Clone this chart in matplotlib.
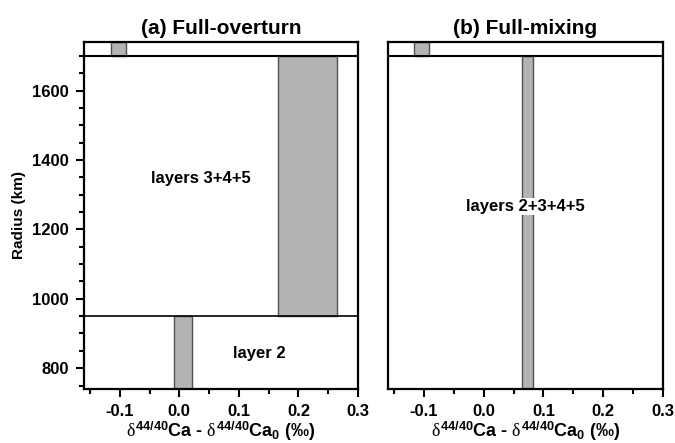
import matplotlib
matplotlib.use("Agg")
import numpy as np
from matplotlib import pyplot as plt
from matplotlib.ticker import MultipleLocator, FixedLocator

plt.rcParams['font.family'] = ['Liberation Sans', 'DejaVu Sans']
plt.rcParams['mathtext.fontset'] = 'custom'
plt.rcParams['mathtext.rm'] = 'Liberation Sans'
plt.rcParams['mathtext.it'] = 'Liberation Serif'
plt.rcParams['mathtext.bf'] = 'Liberation Sans:bold'
plt.rcParams['axes.unicode_minus'] = False

# layer boundaries (km)
r_bottom = 740
r_layer2_top = 950
r_mantle_top = 1700
r_surface = 1740

# (a) full-overturn: bar extents in delta units
a_crust = (-0.115, -0.09)
a_upper = (0.165, 0.265)
a_layer2 = (-0.009, 0.021)

# (b) full-mixing
b_crust = (-0.116, -0.091)
b_mantle = (0.0635, 0.082)

titles = ['(a) Full-overturn', '(b) Full-mixing']
xticks = [-0.1, 0.0, 0.1, 0.2, 0.3]
yticks = [800, 1000, 1200, 1400, 1600]

bar_face = '#b4b4b4'
bar_edge = '#505050'

fig = plt.figure(figsize=(6.75, 4.43), dpi=100)
ax1 = fig.add_axes([0.1244, 0.1219, 0.406, 0.7833])
ax2 = fig.add_axes([0.5748, 0.1219, 0.4074, 0.7833])


def add_bar(ax, xr, y0, y1):
    ax.bar(xr[0], y1 - y0, width=xr[1] - xr[0], bottom=y0, align='edge',
           color=bar_face, edgecolor=bar_edge, linewidth=1.0, zorder=2)


add_bar(ax1, a_crust, r_mantle_top, r_surface)
add_bar(ax1, a_upper, r_layer2_top, r_mantle_top)
add_bar(ax1, a_layer2, r_bottom, r_layer2_top)
ax1.axhline(r_layer2_top, color='black', lw=1.2, zorder=3)

add_bar(ax2, b_crust, r_mantle_top, r_surface)
add_bar(ax2, b_mantle, r_bottom, r_mantle_top)

for ax, title in zip([ax1, ax2], titles):
    ax.axhline(r_mantle_top, color='black', lw=1.5, zorder=3)
    ax.set_xlim(-0.16, 0.3)
    ax.set_ylim(r_bottom, r_surface)
    ax.set_title(title, fontsize=15, fontweight='bold', pad=6)
    ax.set_xticks(xticks)
    ax.set_xticklabels(['%.1f' % v for v in xticks], fontweight='bold', fontsize=12)
    ax.xaxis.set_minor_locator(MultipleLocator(0.05))
    ax.tick_params(axis='x', which='major', direction='out', length=6, width=1.5, pad=5)
    ax.tick_params(axis='x', which='minor', direction='out', length=3.5, width=1.5)
    for s in ax.spines.values():
        s.set_linewidth(1.6)
    ax.set_xlabel(r'$\delta^{\mathbf{44/40}}$Ca - $\delta^{\mathbf{44/40}}$Ca$_{\mathbf{0}}$ (‰)',
                  fontsize=13, fontweight='bold', labelpad=0)

ax1.set_yticks(yticks)
ax1.set_yticklabels([str(v) for v in yticks], fontweight='bold', fontsize=12)
ax1.yaxis.set_minor_locator(FixedLocator(np.arange(750, 1701, 50)))
ax1.tick_params(axis='y', which='major', direction='out', length=6, width=1.5, pad=5)
ax1.tick_params(axis='y', which='minor', direction='out', length=3.5, width=1.5)
ax1.set_ylabel('Radius (km)', fontsize=11, fontweight='bold', labelpad=4)

ax2.set_yticks([])

ax1.text(0.037, 1347, 'layers 3+4+5', ha='center', va='center', fontsize=12, fontweight='bold')
ax1.text(0.135, 843, 'layer 2', ha='center', va='center', fontsize=12, fontweight='bold')
ax2.text(0.07, 1266, 'layers 2+3+4+5', ha='center', va='center', fontsize=12, fontweight='bold',
         bbox=dict(facecolor='white', edgecolor='none', pad=1), zorder=4)

fig.savefig('out.png', dpi=100)
